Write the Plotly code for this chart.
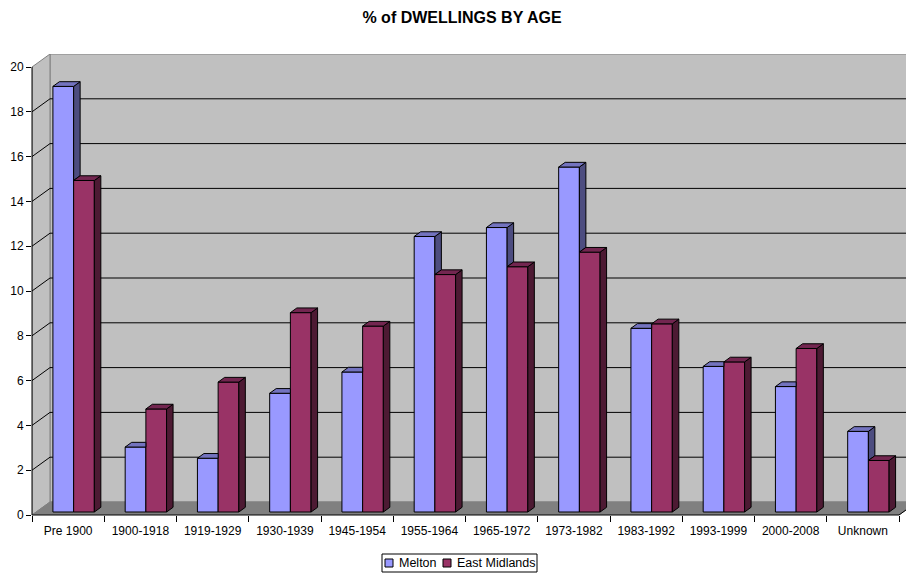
import plotly.graph_objects as go

# ---- data -------------------------------------------------------------
categories = ["Pre 1900", "1900-1918", "1919-1929", "1930-1939", "1945-1954",
              "1955-1964", "1965-1972", "1973-1982", "1983-1992", "1993-1999",
              "2000-2008", "Unknown"]
melton = [19.0, 2.9, 2.4, 5.3, 6.25, 12.3, 12.7, 15.4, 8.2, 6.5, 5.6, 3.6]
east_midlands = [14.8, 4.6, 5.8, 8.9, 8.3, 10.6, 10.95, 11.6, 8.4, 6.7, 7.3, 2.3]
series_names = ["Melton", "East Midlands"]
y_ticks = [0, 2, 4, 6, 8, 10, 12, 14, 16, 18, 20]
chart_title = "% of DWELLINGS BY AGE"

# ---- styling ----------------------------------------------------------
FONT = "Arial, 'Liberation Sans', sans-serif"
FRONT = ["#9999FF", "#993366"]
SIDE = ["#4D4D80", "#4D1A33"]
TOP = ["#7373BF", "#732650"]
WALL = "#C0C0C0"
FLOOR = "#808080"
EDGE = "#808080"

# ---- page geometry (pixels) -------------------------------------------
W, H = 906, 575
L, R, T, B = 32, 0, 54, 60
plot_w, plot_h = W - L - R, H - T - B
px_cat = 72.25          # width of one category on the front plane
px_unit = 22.4          # height of one value unit on the front plane
n = len(categories)
x_range = [-0.5, -0.5 + plot_w / px_cat]
y_range = [0, plot_h / px_unit]
y_top = y_ticks[-1]

# oblique depth of the box (walls / floor) in axis units
DX = 18 / px_cat
DY = 13 / px_unit
# bar geometry in axis units
bar_w = 20.7 / px_cat
bar_shift = 5.5 / px_cat
bar_base = 3 / px_unit
bar_dx = 6.5 / px_cat
bar_dy = 4.7 / px_unit


def pxx(p):
    return (p - L) / plot_w


def pxy(p):
    return (H - B - p) / plot_h


fig = go.Figure()

# front faces of the bars
offsets = [bar_shift - bar_w, bar_shift]
for name, vals, col, off in zip(series_names, [melton, east_midlands], FRONT, offsets):
    fig.add_trace(go.Bar(
        x=categories, y=vals, base=bar_base, width=bar_w, offset=off,
        name=name, marker=dict(color=col, line=dict(color="black", width=1)),
        showlegend=False, hoverinfo="x+y+name",
    ))


def poly_trace(polys, color):
    xs, ys = [], []
    for p in polys:
        for (a, b) in p:
            xs.append(a)
            ys.append(b)
        xs.append(p[0][0])
        ys.append(p[0][1])
        xs.append(None)
        ys.append(None)
    return go.Scatter(x=xs, y=ys, xaxis="x2", yaxis="y", mode="lines",
                      fill="toself", fillcolor=color,
                      line=dict(color="black", width=1),
                      hoverinfo="skip", showlegend=False)


m_side, m_top, e_side, e_top = [], [], [], []
for i, (vm, ve) in enumerate(zip(melton, east_midlands)):
    xs = i + bar_shift - bar_w      # left edge of first bar
    xe = i + bar_shift              # shared edge
    xr = xe + bar_w                 # right edge of second bar
    tm = bar_base + vm
    te = bar_base + ve
    # first series: side face shows only above the neighbouring bar
    if vm > ve:
        m_side.append([(xe, te), (xe, tm), (xe + bar_dx, tm + bar_dy), (xe + bar_dx, te + bar_dy)])
        m_top.append([(xs, tm), (xe, tm), (xe + bar_dx, tm + bar_dy), (xs + bar_dx, tm + bar_dy)])
    else:
        m_top.append([(xs, tm), (xe, tm), (xe, tm + bar_dy), (xs + bar_dx, tm + bar_dy)])
    # second series: full side and top
    e_side.append([(xr, bar_base), (xr, te), (xr + bar_dx, te + bar_dy), (xr + bar_dx, bar_base + bar_dy)])
    e_top.append([(xe, te), (xr, te), (xr + bar_dx, te + bar_dy), (xe + bar_dx, te + bar_dy)])

fig.add_trace(poly_trace(m_side, SIDE[0]))
fig.add_trace(poly_trace(m_top, TOP[0]))
fig.add_trace(poly_trace(e_side, SIDE[1]))
fig.add_trace(poly_trace(e_top, TOP[1]))

# ---- walls, floor and gridlines ----------------------------------------
x0, x1 = -0.5, n - 0.5
shapes = []
shapes.append(dict(type="rect", xref="x2", yref="y", layer="below",
                   x0=x0 + DX, x1=x1 + DX, y0=DY, y1=y_top + DY,
                   fillcolor=WALL, line=dict(color=EDGE, width=1)))
shapes.append(dict(type="path", xref="x2", yref="y", layer="below",
                   path=f"M{x0},0 L{x0},{y_top} L{x0 + DX},{y_top + DY} L{x0 + DX},{DY} Z",
                   fillcolor=WALL, line=dict(color=EDGE, width=1)))
shapes.append(dict(type="path", xref="x2", yref="y", layer="below",
                   path=f"M{x0},0 L{x1},0 L{x1 + DX},{DY} L{x0 + DX},{DY} Z",
                   fillcolor=FLOOR, line=dict(color=EDGE, width=1)))
for v in y_ticks[1:-1]:
    shapes.append(dict(type="path", xref="x2", yref="y", layer="below",
                       path=f"M{x0},{v} L{x0 + DX},{v + DY} L{x1 + DX},{v + DY}",
                       line=dict(color="black", width=1)))

# axis lines on the front plane
ysp = y_range[1] - y_range[0]
xsp = x_range[1] - x_range[0]
shapes.append(dict(type="line", xref="paper", yref="paper", layer="above",
                   x0=0, x1=0, y0=0, y1=y_top / ysp, line=dict(color="black", width=1)))
shapes.append(dict(type="path", xref="paper", yref="paper", layer="above",
                   path=f"M0,0 L{(x1 - x0) / xsp},0 L{(x1 + DX - x0) / xsp},{DY / ysp}",
                   line=dict(color="black", width=1)))

# ---- legend box --------------------------------------------------------
annotations = []
shapes.append(dict(type="rect", xref="paper", yref="paper", layer="above",
                   x0=pxx(382), x1=pxx(537), y0=pxy(554), y1=pxy(572),
                   fillcolor="white", line=dict(color="black", width=1)))
leg_sq = [385, 443]
leg_tx = [397, 455]
for name, col, sq, tx in zip(series_names, FRONT, leg_sq, leg_tx):
    shapes.append(dict(type="rect", xref="paper", yref="paper", layer="above",
                       x0=pxx(sq), x1=pxx(sq + 8), y0=pxy(559), y1=pxy(567),
                       fillcolor=col, line=dict(color="black", width=1)))
    annotations.append(dict(xref="paper", yref="paper", x=pxx(tx), y=pxy(563),
                            text=name, showarrow=False, xanchor="left", yanchor="middle",
                            font=dict(family=FONT, size=12.5, color="black")))

fig.update_layout(
    width=W, height=H,
    margin=dict(l=L, r=R, t=T, b=B, pad=0),
    paper_bgcolor="white", plot_bgcolor="white",
    barmode="overlay",
    showlegend=False,
    title=dict(text=f"<b>{chart_title}</b>", x=462 / W, xref="container", xanchor="center",
               y=1 - 17 / H, yref="container", yanchor="middle",
               font=dict(family=FONT, size=16, color="black")),
    xaxis=dict(type="category", range=x_range, tickson="boundaries",
               ticks="outside", ticklen=6, tickcolor="black", tickwidth=1,
               ticklabelstandoff=7,
               showgrid=False, showline=False, zeroline=False,
               tickfont=dict(family=FONT, size=12, color="black")),
    xaxis2=dict(type="linear", range=x_range, overlaying="x", anchor="y",
                visible=False, showgrid=False, zeroline=False),
    yaxis=dict(range=y_range, tickvals=y_ticks, ticks="outside", ticklen=5,
               tickcolor="black", tickwidth=1, showgrid=False, showline=False,
               zeroline=False, tickfont=dict(family=FONT, size=12, color="black")),
    shapes=shapes,
    annotations=annotations,
    font=dict(family=FONT, color="black"),
)

fig.write_html("out.html")
